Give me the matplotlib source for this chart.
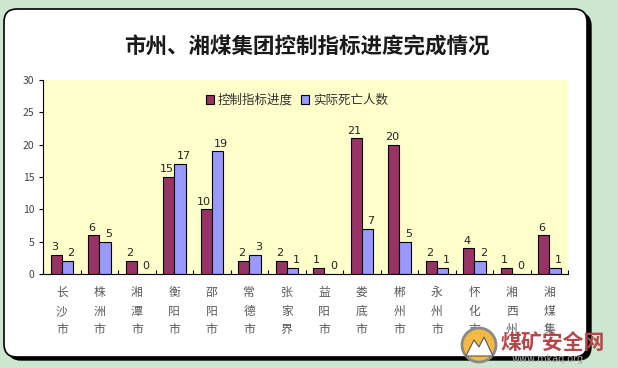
import matplotlib
matplotlib.use('Agg')
import matplotlib.pyplot as plt
from matplotlib.patches import FancyBboxPatch, Circle, Polygon
import numpy as np

plt.rcParams['font.family'] = ['Noto Sans CJK SC', 'DejaVu Sans']

# data
categories = ['长沙市', '株洲市', '湘潭市', '衡阳市', '邵阳市', '常德市', '张家界',
              '益阳市', '娄底市', '郴州市', '永州市', '怀化市', '湘西州', '湘煤集']
control = [3, 6, 2, 15, 10, 2, 2, 1, 21, 20, 2, 4, 1, 6]
deaths = [2, 5, 0, 17, 19, 3, 1, 0, 7, 5, 1, 2, 0, 1]
series_names = ['控制指标进度', '实际死亡人数']
yticks = [0, 5, 10, 15, 20, 25, 30]

W, H = 618, 368
fig = plt.figure(figsize=(W / 100, H / 100), dpi=100)
fig.patch.set_facecolor('#cde6cf')

def fx(px):
    return px / W

def fy(py):
    return 1 - py / H

# background axes in pixel units for the rounded box
bg = fig.add_axes([0, 0, 1, 1])
bg.set_xlim(0, W)
bg.set_ylim(H, 0)
bg.axis('off')
bg.add_patch(FancyBboxPatch((8, 13), 583, 347, boxstyle='round,pad=0,rounding_size=13',
                            facecolor='black', edgecolor='black'))
bg.add_patch(FancyBboxPatch((4, 9), 583, 348, boxstyle='round,pad=0,rounding_size=13',
                            facecolor='white', edgecolor='black', linewidth=1.2))

bg.text(307, 47, '市州、湘煤集团控制指标进度完成情况', ha='center', va='center',
        fontsize=15.5, fontweight='bold', color='#1a1a1a')

ax = fig.add_axes([fx(43), fy(274), fx(568) - fx(43), fy(80) - fy(274)])
ax.set_facecolor('#ffffcc')

x = np.arange(len(categories))
bw = 0.3
ax.bar(x - bw / 2, control, bw, color='#993366', edgecolor='black', linewidth=0.8,
       label=series_names[0])
ax.bar(x + bw / 2, deaths, bw, color='#9999ff', edgecolor='black', linewidth=0.8,
       label=series_names[1])

for xi, v in zip(x, control):
    ax.text(xi - bw / 2 - 0.05, v + 0.4, str(v), ha='center', va='bottom', fontsize=8,
            color='#222222', family='DejaVu Sans')
for xi, v in zip(x, deaths):
    ax.text(xi + bw / 2 + 0.1, v + 0.4, str(v), ha='center', va='bottom', fontsize=8,
            color='#222222', family='DejaVu Sans')

ax.set_xlim(-0.5, len(categories) - 0.5)
ax.set_ylim(0, 30)
ax.set_yticks(yticks)
ax.tick_params(axis='y', labelsize=7.5, labelcolor='#444444', length=3, width=0.8, pad=3)
ax.set_xticks(np.arange(len(categories) + 1) - 0.5)
ax.set_xticklabels([])
ax.tick_params(axis='x', length=3, width=0.8, direction='in')
for s in ['top', 'right']:
    ax.spines[s].set_visible(False)
for s in ['left', 'bottom']:
    ax.spines[s].set_linewidth(0.8)

# vertical category labels
for xi, name in zip(x, categories):
    ax.text(xi, -1.9, '\n'.join(name), ha='center', va='top', fontsize=8.5,
            color='#5a5a5a', linespacing=1.55, clip_on=False)

leg = ax.legend(loc='upper left', bbox_to_anchor=(0.3, 0.955), ncol=2, frameon=False,
                fontsize=9, handlelength=0.7, handleheight=0.7, handletextpad=0.3,
                columnspacing=0.6, borderaxespad=0)
for t in leg.get_texts():
    t.set_color('#333333')

# watermark (site logo) in the lower right corner
wm = fig.add_axes([0, 0, 1, 1])
wm.set_xlim(0, W)
wm.set_ylim(H, 0)
wm.axis('off')
wm.add_patch(Circle((479, 345), 17, facecolor='#f4b942', edgecolor='#8a8a8a', linewidth=2))
wm.add_patch(Polygon([(466, 356), (474, 340), (479, 347), (484, 337), (493, 356)],
                     closed=True, facecolor='white', edgecolor='#555555', linewidth=0.8))
wm.text(553, 343, '煤矿安全网', ha='center', va='center', fontsize=15,
        color='#b5474b', fontweight='bold')
wm.text(548, 359, 'www.mkaq.org', ha='center', va='center', fontsize=7,
        color='#aaaaaa', family='DejaVu Sans')

fig.savefig('out.png', dpi=100, facecolor=fig.get_facecolor())
